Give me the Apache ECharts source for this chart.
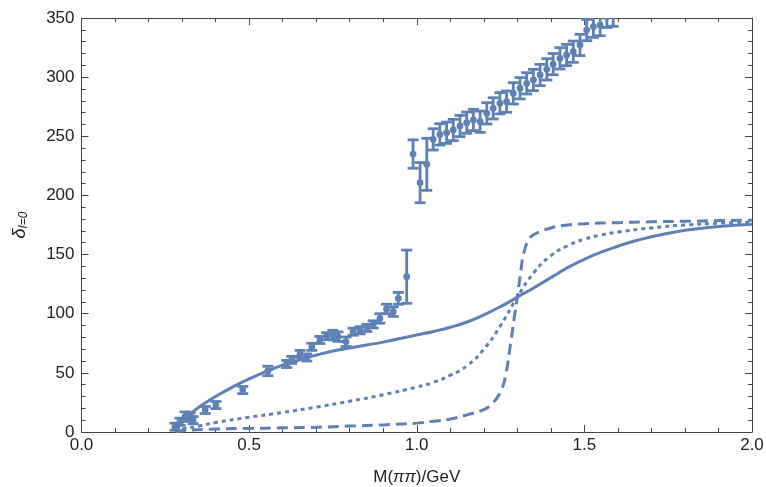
<!DOCTYPE html>
<html>
<head>
<meta charset="utf-8">
<script src="https://cdn.jsdelivr.net/npm/echarts@6/dist/echarts.min.js"></script>
<style>html,body{margin:0;padding:0;background:#fff}#c{width:766px;height:487px}</style>
</head>
<body>
<div id="c"></div>
<script>
// experimental data: mass (GeV), phase (deg), error (deg)
const massPts = [0.279,0.294,0.309,0.324,0.333,0.369,0.401,0.481,0.556,0.612,0.627,0.652,0.672,0.687,0.711,0.731,0.75,0.765,0.789,0.81,0.831,0.851,0.87,0.89,0.91,0.93,0.945,0.97,
  0.989,1.01,1.03,1.049,1.069,1.089,1.109,1.129,1.149,1.169,1.189,1.209,1.228,1.248,1.268,1.288,1.308,1.328,1.348,1.368,1.388,1.407,1.427,1.447,1.467,1.487,1.507,1.527,1.547,1.567,1.586];
const phasePts = [4.5,8.7,13,13,10,18.6,22.8,35.5,51.6,57.5,61,66,63,72,77.8,81,82,80.6,76.3,84.8,86,88,91,96,104,101.7,113,131.3,
  235,210.8,226.3,247.4,251.6,253,255.3,258.7,261.5,263.8,262.3,269.4,273.6,277.9,279.3,286.3,290.6,294.8,297.6,301.8,306.6,311,315.9,318.7,321.5,327.2,339.8,342.6,344,351,352];
const errPts = [3,3,4,3,3,3,3,3,4,3,3,3,3,3,3,3,4,4,4,3,3,3,3,4,4,4,5,22.5,
  12,17,22,9,9,9,9,9,9,9,9,9,9,9,9,9,9,9,9,9,9,9,9,9,9,9,9,9,9,9,9];

// model curves
const solidX = [0.279,0.29,0.3,0.32,0.35,0.4,0.45,0.5,0.55,0.6,0.65,0.7,0.75,0.8,0.85,0.9,0.95,1.0,1.05,1.1,1.15,1.2,1.25,1.3,1.35,1.4,1.45,1.5,1.55,1.6,1.65,1.7,1.75,1.8,1.85,1.9,1.95,2.0];
const solidY = [0,4,8,14,21,30,38,45,51,56.5,61,65,68.5,71,73.5,76,79,82,85,88.5,93,99,106,114,122,130.5,139,146,152,157,161.5,165,168,170.5,172.3,173.7,174.8,175.7];
const dottedX = [0.279,0.3,0.35,0.4,0.5,0.6,0.7,0.8,0.9,1.0,1.05,1.1,1.15,1.2,1.25,1.3,1.35,1.4,1.45,1.5,1.55,1.6,1.7,1.8,1.9,2.0];
const dottedY = [0,2.5,5,8,12.5,16.5,21,26,31.5,38,42,48,56,70,90,114,135,149,157.5,163,166.5,169,172.5,175,176.5,177.5];
const dashedX = [0.279,0.3,0.4,0.5,0.6,0.7,0.8,0.9,1.0,1.05,1.1,1.15,1.2,1.225,1.25,1.265,1.28,1.29,1.3,1.31,1.32,1.335,1.35,1.4,1.45,1.5,1.6,1.7,1.8,1.9,2.0];
const dashedY = [0,1,2.5,3,3.5,4,5,6,7.5,9,11,14.5,19,24,34,48,75,95,114,135,152,163,167,172.5,175,176,177,177.7,178.2,178.7,179];

const xTicks = [0, 0.5, 1.0, 1.5, 2.0];
const yTicks = [0, 50, 100, 150, 200, 250, 300, 350];

const COLOR = '#5E81B5';
const zip = (a, b) => a.map((v, i) => [v, b[i]]);
const errData = massPts.map((m, i) => [m, phasePts[i], phasePts[i] - errPts[i], phasePts[i] + errPts[i]]);

const chart = echarts.init(document.getElementById('c'));
const font = 'Liberation Sans, Arial, sans-serif';
const axisLine = {show: true, onZero: false, lineStyle: {color: '#444', width: 1}};
const tickCommon = {show: true, inside: true, length: 7, lineStyle: {color: '#444', width: 1}};
const minorCommon = {show: true, splitNumber: 5, length: 4, lineStyle: {color: '#444', width: 1}};
const lineCommon = {type: 'line', smooth: 0.5, showSymbol: false, symbol: 'none', z: 3};

chart.setOption({
  animation: false,
  backgroundColor: '#fff',
  grid: {left: 81.5, right: 14, top: 18, bottom: 55, containLabel: false, outerBoundsMode: 'none'},
  xAxis: [{
    type: 'value', min: xTicks[0], max: xTicks[xTicks.length - 1], interval: 0.5, position: 'bottom',
    axisLine: axisLine, axisTick: tickCommon, minorTick: minorCommon, splitLine: {show: false},
    axisLabel: {color: '#222', fontSize: 17, fontFamily: font, margin: 5, formatter: v => v.toFixed(1)},
    name: '{n|M(}{i|ππ}{n|)/GeV}', nameLocation: 'middle', nameGap: 37,
    nameTextStyle: {rich: {n: {fontSize: 17, fontFamily: font, color: '#222'}, i: {fontSize: 17, fontFamily: font, fontStyle: 'italic', color: '#222'}}}
  }, {
    type: 'value', min: 0, max: 2, interval: 0.5, position: 'top',
    axisLine: axisLine, axisTick: tickCommon, minorTick: minorCommon, splitLine: {show: false},
    axisLabel: {show: false}
  }],
  yAxis: [{
    type: 'value', min: yTicks[0], max: yTicks[yTicks.length - 1], interval: 50, position: 'left',
    axisLine: axisLine, axisTick: tickCommon, minorTick: minorCommon, splitLine: {show: false},
    axisLabel: {color: '#222', fontSize: 17, fontFamily: font, margin: 7},
    name: '{d|δ}{s|I=0}', nameLocation: 'middle', nameGap: 52, nameRotate: 90,
    nameTextStyle: {rich: {d: {fontSize: 18, fontFamily: font, fontStyle: 'italic', color: '#222'},
      s: {fontSize: 12, fontFamily: font, fontStyle: 'italic', color: '#222', verticalAlign: 'bottom', padding: [7, 0, 0, 0]}}}
  }, {
    type: 'value', min: 0, max: 350, interval: 50, position: 'right',
    axisLine: axisLine, axisTick: tickCommon, minorTick: minorCommon, splitLine: {show: false},
    axisLabel: {show: false}
  }],
  series: [Object.assign({}, lineCommon, {
    data: zip(solidX, solidY), lineStyle: {color: COLOR, width: 3}
  }), Object.assign({}, lineCommon, {
    data: zip(dottedX, dottedY), lineStyle: {color: COLOR, width: 3, type: [4, 4]}
  }), Object.assign({}, lineCommon, {
    data: zip(dashedX, dashedY), lineStyle: {color: COLOR, width: 3, type: [11, 6]}
  }), {
    type: 'custom', clip: true, z: 4,
    data: errData,
    renderItem: function (params, api) {
      const x = api.value(0);
      const c = api.coord([x, api.value(1)]);
      const lo = api.coord([x, api.value(2)]);
      const hi = api.coord([x, api.value(3)]);
      const hw = 5.5;
      const st = {stroke: COLOR, lineWidth: 2.8};
      return {type: 'group', children: [
        {type: 'line', shape: {x1: lo[0], y1: lo[1], x2: hi[0], y2: hi[1]}, style: st},
        {type: 'line', shape: {x1: lo[0] - hw, y1: lo[1], x2: lo[0] + hw, y2: lo[1]}, style: st},
        {type: 'line', shape: {x1: hi[0] - hw, y1: hi[1], x2: hi[0] + hw, y2: hi[1]}, style: st},
        {type: 'circle', shape: {cx: c[0], cy: c[1], r: 3.4}, style: {fill: COLOR}}
      ]};
    }
  }]
});
</script>
</body>
</html>
